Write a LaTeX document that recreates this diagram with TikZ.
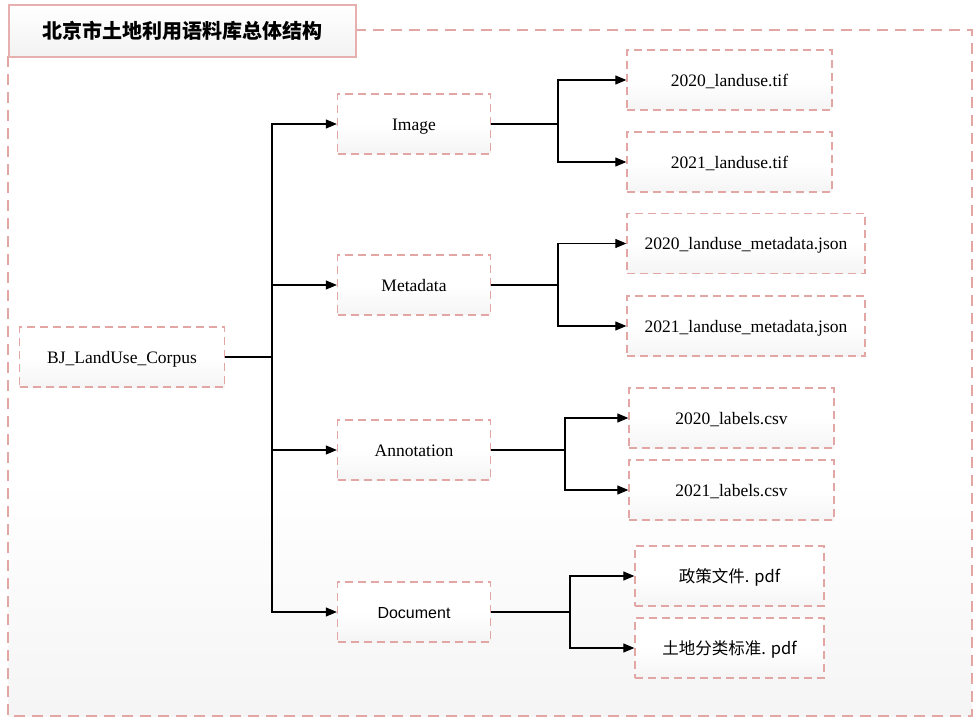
\documentclass[tikz,border=0pt]{standalone}
\usepackage{fontspec}
\setmainfont{Liberation Serif}
\newfontfamily\cjk{Noto Sans CJK SC}
\newfontfamily\sansf{Liberation Sans}
\usetikzlibrary{arrows.meta,shadows}
\definecolor{pinkline}{HTML}{E2A7A4}
\tikzset{
  x=1pt,y=-1pt,
  box/.style={draw=pinkline, line width=1.3pt, dash pattern=on 8pt off 5pt,
    top color=white, bottom color=black!4, middle color=white,
    text height=16pt, text depth=3pt,
    minimum height=60pt, inner sep=0pt, font=\fontsize{17.5}{20}\selectfont},
  cjkbox/.style={box, font=\cjk\fontsize{16.5}{19}\selectfont},
  conn/.style={line width=1.1pt, black},
  arr/.style={conn, -{Triangle[length=11pt,width=9pt]}},
}
\begin{document}
\begin{tikzpicture}
\useasboundingbox (0,0) rectangle (978,722);
% outer container
\fill[white] (8,30) rectangle (972,716);
\shade[top color=white, bottom color=black!4] (8,480) rectangle (972,716);
\draw[pinkline, line width=1.5pt, dash pattern=on 11pt off 7pt] (355,30) -- (972,30) -- (972,716) -- (8,716) -- (8,56);
% title
\node[draw=pinkline!90, line width=1.6pt, top color=white, bottom color=black!5,
  drop shadow={opacity=0.15, shadow xshift=1pt, shadow yshift=-1pt},
  minimum width=347pt, minimum height=52pt, anchor=north west, inner sep=0pt,
  font=\cjk\bfseries\fontsize{20}{23}\selectfont] (title) at (8,4) {北京市土地利用语料库总体结构};

% nodes
\node[box, minimum width=205pt] (root) at (122,357) {BJ\_LandUse\_Corpus};
\node[box, minimum width=153pt] (img) at (414,124) {Image};
\node[box, minimum width=153pt] (meta) at (414,285) {Metadata};
\node[box, minimum width=153pt] (ann) at (414,450) {Annotation};
\node[box, minimum width=153pt, font=\sansf\fontsize{16}{19}\selectfont] (doc) at (414,612) {Document};

\node[box, minimum width=205pt] (i1) at (729.5,80) {2020\_landuse.tif};
\node[box, minimum width=205pt] (i2) at (729.5,162) {2021\_landuse.tif};
\node[box, minimum width=238pt] (m1) at (746,243.5) {2020\_landuse\_metadata.json};
\node[box, minimum width=238pt] (m2) at (746,326) {2021\_landuse\_metadata.json};
\node[box, minimum width=205pt] (a1) at (731.5,418) {2020\_labels.csv};
\node[box, minimum width=205pt] (a2) at (731.5,490) {2021\_labels.csv};
\node[cjkbox, minimum width=189pt] (d1) at (729.5,576) {政策文件. pdf};
\node[cjkbox, minimum width=189pt] (d2) at (729.5,648) {土地分类标准. pdf};

% connectors
\coordinate (trunk) at (272,357);
\draw[conn] (root.east) -- (trunk);
\draw[arr] (trunk) |- (img.west);
\draw[arr] (trunk) |- (meta.west);
\draw[arr] (trunk) |- (ann.west);
\draw[arr] (trunk) |- (doc.west);

\coordinate (bi) at (558,124);
\draw[conn] (img.east) -- (bi);
\draw[arr] (bi) |- (i1.west);
\draw[arr] (bi) |- (i2.west);

\coordinate (bm) at (558,285);
\draw[conn] (meta.east) -- (bm);
\draw[arr] (bm) |- (m1.west);
\draw[arr] (bm) |- (m2.west);

\coordinate (ba) at (565,450);
\draw[conn] (ann.east) -- (ba);
\draw[arr] (ba) |- (a1.west);
\draw[arr] (ba) |- (a2.west);

\coordinate (bd) at (570,612);
\draw[conn] (doc.east) -- (bd);
\draw[arr] (bd) |- (d1.west);
\draw[arr] (bd) |- (d2.west);
\end{tikzpicture}
\end{document}
